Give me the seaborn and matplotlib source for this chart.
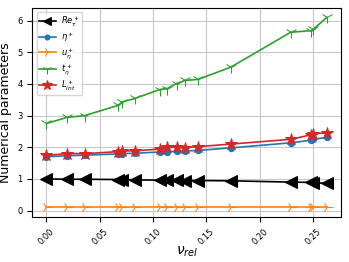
import matplotlib
matplotlib.use("Agg")
import matplotlib.pyplot as plt
import seaborn as sns
import pandas as pd

#  Data
nu_rel = [0.0, 0.019, 0.036, 0.067, 0.071, 0.083, 0.106, 0.113, 0.122, 0.130,
          0.142, 0.173, 0.229, 0.248, 0.250, 0.263]
re_tau = [1.00, 0.99, 0.99, 0.98, 0.98, 0.97, 0.96, 0.96, 0.955, 0.95,
          0.95, 0.94, 0.90, 0.89, 0.88, 0.86]
eta = [1.70, 1.73, 1.75, 1.79, 1.80, 1.81, 1.85, 1.86, 1.87, 1.88,
       1.90, 1.98, 2.14, 2.22, 2.25, 2.31]
u_eta = [0.10] * 16
t_eta = [2.75, 2.94, 3.00, 3.32, 3.43, 3.54, 3.82, 3.85, 4.01, 4.11,
         4.14, 4.53, 5.63, 5.68, 5.72, 6.10]
l_int = [1.74, 1.80, 1.80, 1.86, 1.88, 1.89, 1.94, 2.02, 2.00, 1.99,
         2.02, 2.10, 2.25, 2.39, 2.42, 2.46]

series = [
    (re_tau, r"$Re_\tau^+$", "black", "<", 8),
    (eta, r"$\eta^+$", "C0", "o", 4.5),
    (u_eta, r"$u_\eta^+$", "C1", "4", 8),
    (t_eta, r"$t_\eta^+$", "C2", "1", 9),
    (l_int, r"$L_{int}^+$", "C3", "*", 9),
]

fig, ax = plt.subplots(figsize=(3.49, 2.62), dpi=100)
for vals, lab, col, mk, ms in series:
    df = pd.DataFrame({"x": nu_rel, "y": vals})
    sns.lineplot(data=df, x="x", y="y", ax=ax, color=col, marker=mk,
                 markersize=ms, label=lab, linewidth=1.2,
                 markeredgecolor=col, sort=False)

ax.grid(True, color="#c8c8c8", linewidth=0.8)
ax.set_xlabel(r"$\nu_{rel}$", fontsize=10, labelpad=-1)
ax.set_ylabel("Numerical parameters", fontsize=9)
ax.tick_params(labelsize=6)
plt.setp(ax.get_xticklabels(), rotation=45)
ax.legend(loc="upper left", fontsize=6, handlelength=2, labelspacing=0.2,
          borderpad=0.3, markerscale=0.8, handletextpad=0.6)
fig.subplots_adjust(left=0.093, right=0.977, top=0.97, bottom=0.172)
fig.savefig("out.png")
